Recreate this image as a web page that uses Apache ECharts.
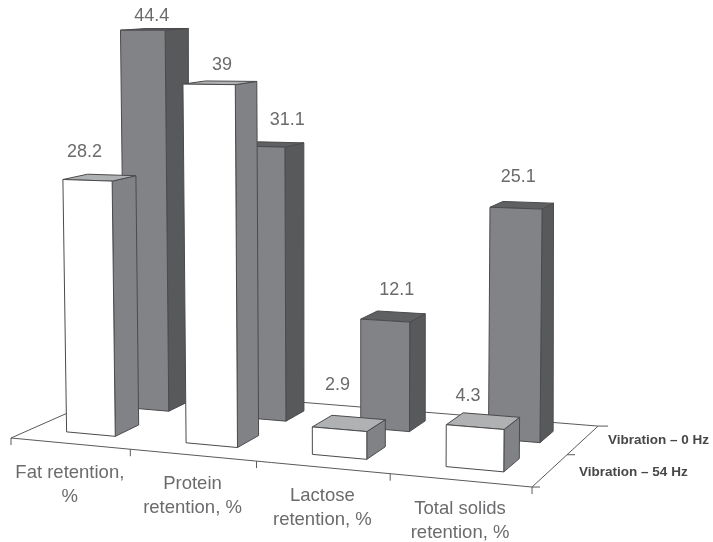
<!DOCTYPE html>
<html>
<head>
<meta charset="utf-8">
<style>
  html, body { margin: 0; padding: 0; background: #fff; }
  #chart { width: 713px; height: 542px; }
</style>
<script src="https://cdn.jsdelivr.net/npm/echarts@6/dist/echarts.min.js"></script>
</head>
<body>
<div id="chart"></div>
<script>
// Retention values per component, one list per vibration setting
var categories = ['Fat retention,\n%', 'Protein\nretention, %', 'Lactose\nretention, %', 'Total solids\nretention, %'];
var vibration54Hz = [28.2, 39, 2.9, 4.3];
var vibration0Hz = [44.4, 31.1, 12.1, 25.1];
var seriesNames = ['Vibration \u2013 54 Hz', 'Vibration \u2013 0 Hz'];

// Nudges of the value labels away from the top of their bars
var frontLabelNudge = [[-2, -28], [14, -19], [-1, -44], [-6, -31]];
var backLabelNudge = [[13, -14], [30, -26], [16, -30], [7, -31]];
// Horizontal gap between the depth axis and its captions
var depthCaptionGap = [29, 25];
var depthCaptionDrop = [2, 0];

// Perspective floor: unit square (s along categories, t into depth) to screen
var G = -0.1091, H = 0.1143;
function floorPoint(s, t) {
  var w = 1 + G * s + H * t;
  return { x: (463 * s + 127.2 * t + 11) / w, y: (-4.1 * s - 5.6 * t + 438) / w, w: w };
}

// Screen position of a bar corner standing on the floor at (s, t), raised by value v
function corner(api, s, t, v) {
  var unit = api.coord([0, 0])[1] - api.coord([0, 1])[1];
  var p = floorPoint(s, t);
  var h = unit * v / p.w;
  var leanScale = t > 0.7 ? 0.15 : 1;
  return [p.x + (p.x - 360) * h * 5e-5 * leanScale, p.y - h];
}

var lineColor = '#5a5a5a';
var edge = { stroke: '#4b4b4d', lineWidth: 1, lineJoin: 'round' };

function face(points, fill) {
  return { type: 'polygon', shape: { points: points }, style: Object.assign({ fill: fill }, edge) };
}

// One 3D bar: floor footprint from the category band, height from the value axis
function barRenderer(opts) {
  return function (params, api) {
    var cs = params.coordSys;
    var i = api.value(0), v = api.value(1);
    var sc = (api.coord([i, 0])[0] - cs.x) / cs.width;
    var s0 = sc + opts.sLeft, s1 = sc + opts.sRight, t0 = opts.t0, t1 = opts.t1;
    var a = corner(api, s0, t0, 0), b = corner(api, s1, t0, 0), c = corner(api, s1, t1, 0);
    var ta = corner(api, s0, t0, v), tb = corner(api, s1, t0, v);
    var tc = corner(api, s1, t1, v), td = corner(api, s0, t1, v);
    var nudge = opts.nudge[i];
    var mid = corner(api, sc, t0, v);
    return {
      type: 'group',
      children: [
        face([tb, tc, c, b], opts.side),
        face([ta, td, tc, tb], opts.top),
        face([ta, tb, b, a], opts.front),
        {
          type: 'text',
          style: {
            x: mid[0] + nudge[0], y: mid[1] + nudge[1],
            text: String(v), fill: '#6b6b6d',
            font: '18px "Liberation Sans", Arial, sans-serif',
            align: 'center', verticalAlign: 'middle'
          }
        }
      ]
    };
  };
}

function seg(p, q) {
  return { type: 'line', shape: { x1: p[0], y1: p[1], x2: q[0], y2: q[1] }, style: { stroke: lineColor, lineWidth: 1 } };
}
function fp(s, t) { var p = floorPoint(s, t); return [p.x, p.y]; }

// Floor outline, its tick marks, category captions and depth captions
function floorRenderer(params, api) {
  var A = fp(0, 0), B = fp(1, 0), C = fp(1, 1), D = fp(0, 1), M = fp(1, 0.5);
  var children = [seg(A, B), seg(B, C), seg(C, D), seg(D, A)];
  [0, 0.25, 0.5, 0.75, 1].forEach(function (s) {
    var p = fp(s, 0);
    children.push(seg(p, [p[0], p[1] + 7]));
  });
  children.push(seg(B, [B[0] + 8, B[1]]));
  children.push(seg(M, [M[0] + 8, M[1]]));
  children.push(seg(C, [C[0] + 10, C[1]]));
  categories.forEach(function (name, i) {
    var p = fp((i + 0.5) / categories.length, 0);
    children.push({
      type: 'text',
      style: {
        x: p[0], y: p[1] + 41, text: name, fill: '#6b6b6d',
        font: '18.5px "Liberation Sans", Arial, sans-serif', lineHeight: 24,
        align: 'center', verticalAlign: 'middle'
      }
    });
  });
  seriesNames.forEach(function (name, i) {
    var p = fp(1, 0.25 + 0.5 * i);
    children.push({
      type: 'text',
      style: {
        x: p[0] + depthCaptionGap[i], y: p[1] + depthCaptionDrop[i], text: name, fill: '#47474a',
        font: 'bold 13.5px "Liberation Sans", Arial, sans-serif',
        align: 'left', verticalAlign: 'middle'
      }
    });
  });
  return { type: 'group', children: children };
}

function toData(values) {
  return values.map(function (v, i) { return [i, v]; });
}

var chart = echarts.init(document.getElementById('chart'), null, { renderer: 'canvas' });
chart.setOption({
  backgroundColor: '#ffffff',
  animation: false,
  tooltip: { show: false },
  grid: { left: 0, right: 0, top: 20, height: 452.5 },
  xAxis: { type: 'category', data: categories, show: false },
  yAxis: { type: 'value', min: 0, max: 50, show: false },
  series: [
    {
      type: 'custom', name: 'floor', silent: true,
      data: [[0, 0]], renderItem: floorRenderer
    },
    {
      type: 'custom', name: seriesNames[1], silent: true,
      data: toData(vibration0Hz),
      renderItem: barRenderer({
        sLeft: -0.04, sRight: 0.057, t0: 0.65, t1: 0.85,
        front: '#828386', side: '#58595b', top: '#5f6062', nudge: backLabelNudge
      })
    },
    {
      type: 'custom', name: seriesNames[0], silent: true,
      data: toData(vibration54Hz),
      renderItem: barRenderer({
        sLeft: -0.05, sRight: 0.0535, t0: 0.17, t1: 0.38,
        front: '#ffffff', side: '#818285', top: '#b0b1b3', nudge: frontLabelNudge
      })
    }
  ]
});
</script>
</body>
</html>
